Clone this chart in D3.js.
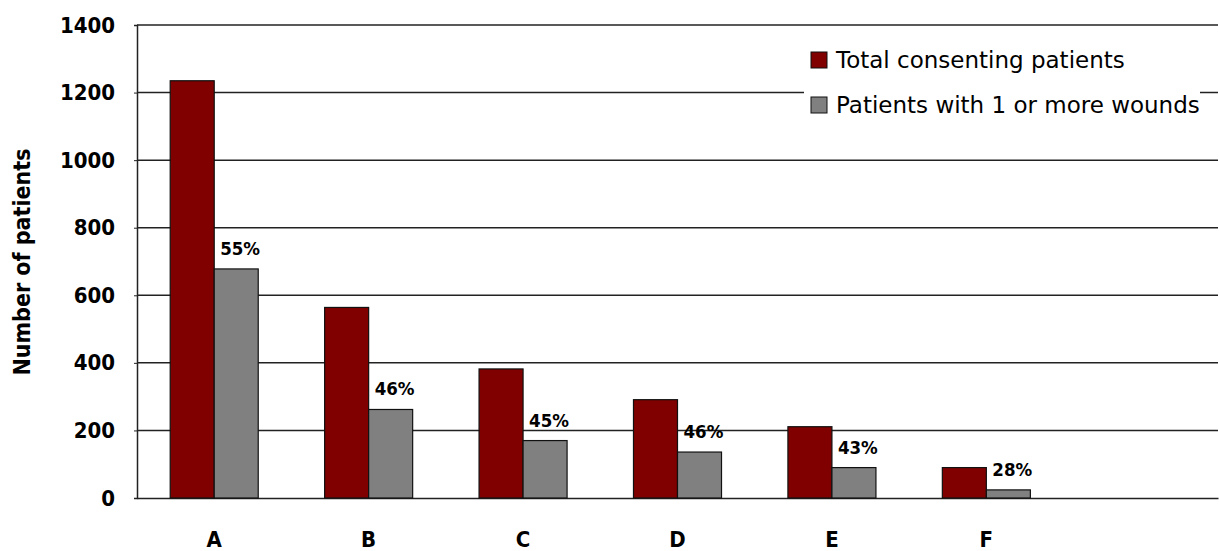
<!DOCTYPE html>
<html>
<head>
<meta charset="utf-8">
<script src="https://cdn.jsdelivr.net/npm/d3@7"></script>
<style>
  html, body { margin: 0; padding: 0; background: #fff; }
  svg { display: block; font-family: "DejaVu Sans Condensed", "DejaVu Sans", sans-serif; }
</style>
</head>
<body>
<svg id="chart" width="1219" height="551"></svg>
<script>
// ---- data ----
const categories = ["A", "B", "C", "D", "E", "F", ""];
const seriesNames = ["Total consenting patients", "Patients with 1 or more wounds"];
const totalConsenting = [1235, 564, 382, 291, 211, 90];
const withWounds = [678, 262, 170, 136, 90, 24];
const percentLabels = ["55%", "46%", "45%", "46%", "43%", "28%"];
const yTicks = [0, 200, 400, 600, 800, 1000, 1200, 1400];
const colors = ["#800000", "#808080"];

// ---- layout ----
const svg = d3.select("#chart");
const mLeft = 137, mRight = 1218, mTop = 25, mBottom = 498;

const x0 = d3.scaleBand().domain(categories).range([mLeft, mRight])
  .paddingInner(0.43).paddingOuter(0.215);
const x1 = d3.scaleBand().domain([0, 1]).range([0, x0.bandwidth()]);
const y = d3.scaleLinear().domain([0, 1400]).range([mBottom, mTop]);

// gridlines
svg.append("g").selectAll("line").data(yTicks.filter(t => t > 0)).join("line")
  .attr("x1", mLeft).attr("x2", mRight)
  .attr("y1", d => y(d)).attr("y2", d => y(d))
  .attr("stroke", "#222").attr("stroke-width", 1.5);

// y axis
const yAxis = d3.axisLeft(y).tickValues(yTicks).tickFormat(d3.format("d")).tickSize(3).tickPadding(19);
const gy = svg.append("g").attr("transform", `translate(${mLeft},0)`).call(yAxis);
gy.select(".domain").attr("stroke", "#222").attr("stroke-width", 1.5);
gy.selectAll(".tick line").attr("stroke", "#222");
gy.selectAll("text").attr("font-size", 22).attr("font-weight", "bold").attr("fill", "#000")
  .attr("font-family", "DejaVu Sans Condensed, DejaVu Sans, sans-serif");

// x axis labels
const xAxis = d3.axisBottom(x0).tickSize(0).tickPadding(33);
const gx = svg.append("g").attr("transform", `translate(0,${mBottom})`).call(xAxis);
gx.select(".domain").attr("stroke", "#222").attr("stroke-width", 1.5);
gx.selectAll("text").attr("font-size", 22).attr("font-weight", "bold").attr("fill", "#000")
  .attr("font-family", "DejaVu Sans Condensed, DejaVu Sans, sans-serif");

// bars
const series = [totalConsenting, withWounds];
const groups = svg.append("g").selectAll("g").data(categories.slice(0, totalConsenting.length)).join("g")
  .attr("transform", d => `translate(${x0(d)},0)`);
groups.selectAll("rect").data((d, i) => series.map((s, k) => ({ k, v: s[i] }))).join("rect")
  .attr("x", d => x1(d.k))
  .attr("width", x1.bandwidth())
  .attr("y", d => y(d.v))
  .attr("height", d => y(0) - y(d.v))
  .attr("fill", d => colors[d.k])
  .attr("stroke", "#111").attr("stroke-width", 1.2);

// percentage labels
groups.append("text")
  .attr("x", x1(1) + 6)
  .attr("y", (d, i) => y(withWounds[i]) - 14)
  .attr("font-size", 18.5).attr("font-weight", "bold").attr("fill", "#000")
  .text((d, i) => percentLabels[i]);

// y title
svg.append("text")
  .attr("transform", "translate(30,262) rotate(-90)")
  .attr("text-anchor", "middle")
  .attr("font-size", 23).attr("font-weight", "bold")
  .text("Number of patients");

// legend
const lg = svg.append("g");
lg.append("rect").attr("x", 804).attr("y", 40).attr("width", 396).attr("height", 82).attr("fill", "#fff");
const items = lg.selectAll("g").data(seriesNames).join("g")
  .attr("transform", (d, i) => `translate(811,${52 + i * 45})`);
items.append("rect").attr("width", 16).attr("height", 16)
  .attr("fill", (d, i) => colors[i]).attr("stroke", "#111").attr("stroke-width", 1);
items.append("text").attr("x", 25).attr("y", 16).attr("font-size", 23).attr("fill", "#000")
  .attr("font-family", "DejaVu Sans, sans-serif")
  .text(d => d);
</script>
</body>
</html>
